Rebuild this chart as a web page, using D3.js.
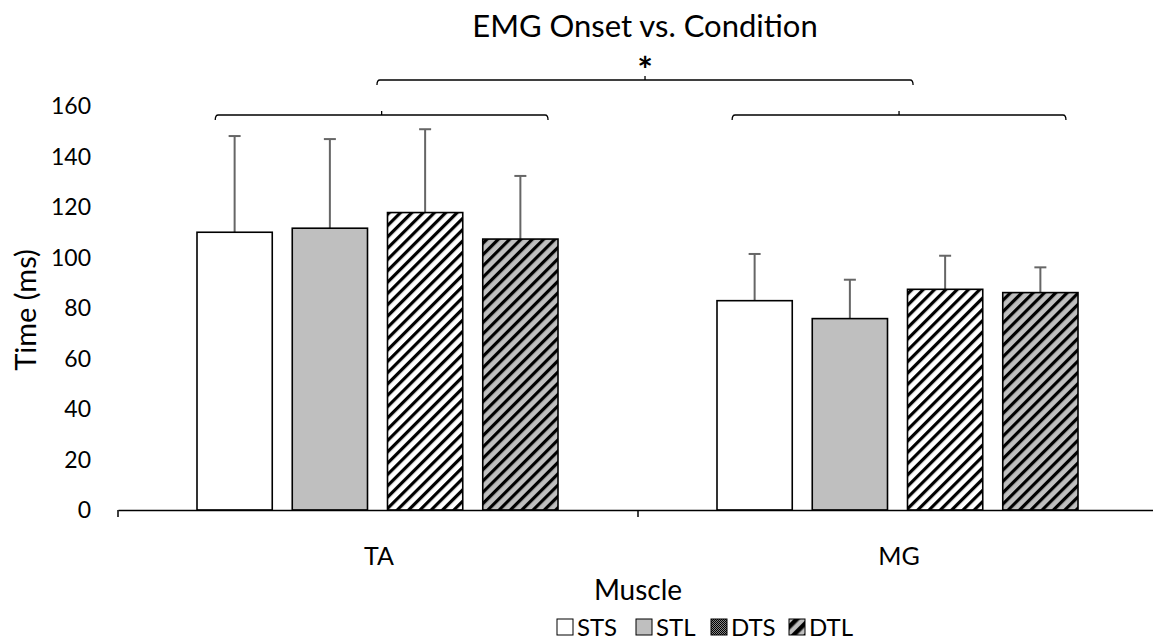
<!DOCTYPE html>
<html>
<head>
<meta charset="utf-8">
<script src="https://cdn.jsdelivr.net/npm/d3@7"></script>
<style>
  body { margin: 0; background: #fff; }
  text { font-family: Lato, "Liberation Sans", sans-serif; fill: #000; }
</style>
</head>
<body>
<div id="chart"></div>
<script>
// data
var muscles = ["TA", "MG"];
var conditions = ["STS", "STL", "DTS", "DTL"];
var meanTA = [110.0, 111.6, 117.8, 107.3];
var meanMG = [82.9, 75.8, 87.4, 86.1];
var sdTA = [38.1, 35.3, 33.0, 25.0];
var sdMG = [18.5, 15.4, 13.3, 10.0];
var yTicks = [0, 20, 40, 60, 80, 100, 120, 140, 160];

var width = 1153, height = 642;

var svg = d3.select("#chart").append("svg")
  .attr("width", width)
  .attr("height", height);

var defs = svg.append("defs");

// fill patterns
function stripes(id, bg, size, thick) {
  var p = defs.append("pattern")
    .attr("id", id)
    .attr("patternUnits", "userSpaceOnUse")
    .attr("width", size).attr("height", size)
    .attr("patternTransform", "rotate(45)");
  p.append("rect").attr("width", size).attr("height", size).attr("fill", bg);
  p.append("rect").attr("width", thick).attr("height", size).attr("fill", "#000");
}
stripes("dts", "#fff", 8, 3.2);
stripes("dtl", "#bfbfbf", 8, 3.2);
stripes("dtlLeg", "#bfbfbf", 9, 4.5);

var chk = defs.append("pattern")
  .attr("id", "chk")
  .attr("patternUnits", "userSpaceOnUse")
  .attr("width", 2).attr("height", 2);
chk.append("rect").attr("width", 2).attr("height", 2).attr("fill", "#888");
chk.append("rect").attr("width", 1).attr("height", 1).attr("fill", "#000");
chk.append("rect").attr("x", 1).attr("y", 1).attr("width", 1).attr("height", 1).attr("fill", "#000");

var fills = {STS: "#fff", STL: "#bfbfbf", DTS: "url(#dts)", DTL: "url(#dtl)"};
var legFills = {STS: "#fff", STL: "#bfbfbf", DTS: "url(#chk)", DTL: "url(#dtlLeg)"};

// scales
var x0 = d3.scaleBand().domain(muscles).range([118, 1158]);
var x1 = d3.scaleBand().domain(conditions).range([79, 440]).paddingInner(0.21);
var y = d3.scaleLinear().domain([0, 160]).range([510, 106]);

var rows = [];
muscles.forEach(function (m, i) {
  var means = i == 0 ? meanTA : meanMG;
  var sds = i == 0 ? sdTA : sdMG;
  conditions.forEach(function (c, j) {
    rows.push({muscle: m, cond: c, mean: means[j], sd: sds[j]});
  });
});

// y tick labels (no axis line)
svg.append("g")
  .selectAll("text")
  .data(yTicks)
  .enter().append("text")
  .attr("x", 91)
  .attr("y", function (d) { return y(d); })
  .attr("dy", "0.36em")
  .attr("text-anchor", "end")
  .style("font-size", "23px")
  .text(function (d) { return d; });

// error bars
var eb = svg.append("g");
rows.forEach(function (d) {
  var cx = x0(d.muscle) + x1(d.cond) + x1.bandwidth() / 2;
  eb.append("line")
    .attr("x1", cx).attr("x2", cx)
    .attr("y1", y(d.mean)).attr("y2", y(d.mean + d.sd))
    .style("stroke", "#666").style("stroke-width", "2px");
  eb.append("line")
    .attr("x1", cx - 6).attr("x2", cx + 6)
    .attr("y1", y(d.mean + d.sd)).attr("y2", y(d.mean + d.sd))
    .style("stroke", "#666").style("stroke-width", "2px");
});

// bars
svg.append("g")
  .selectAll("rect")
  .data(rows)
  .enter().append("rect")
  .attr("x", function (d) { return x0(d.muscle) + x1(d.cond); })
  .attr("y", function (d) { return y(d.mean); })
  .attr("width", x1.bandwidth())
  .attr("height", function (d) { return y(0) - y(d.mean); })
  .style("fill", function (d) { return fills[d.cond]; })
  .style("stroke", "#000")
  .style("stroke-width", "1.6px");

// x axis
var xAxis = d3.axisBottom(x0).tickSizeOuter(0).tickSizeInner(0).tickFormat("");
var gx = svg.append("g").attr("transform", "translate(0," + y(0) + ")").call(xAxis);
gx.select(".domain").style("stroke", "#000").style("stroke-width", "1.5px");
gx.selectAll(".tick").remove();
muscles.concat(["end"]).forEach(function (m, i) {
  var xx = 118 + i * x0.bandwidth();
  gx.append("line").attr("x1", xx).attr("x2", xx).attr("y1", 0).attr("y2", 7)
    .style("stroke", "#000").style("stroke-width", "1.5px");
});

svg.append("g")
  .selectAll("text")
  .data(muscles)
  .enter().append("text")
  .attr("x", function (d) { return x0(d) + x0.bandwidth() / 2 + 1; })
  .attr("y", 565)
  .attr("text-anchor", "middle")
  .style("font-size", "25px")
  .text(function (d) { return d; });

// axis titles
svg.append("text")
  .attr("x", 638).attr("y", 600)
  .attr("text-anchor", "middle")
  .style("font-size", "28px")
  .text("Muscle");

svg.append("text")
  .attr("transform", "translate(36,310) rotate(-90)")
  .attr("text-anchor", "middle")
  .style("font-size", "29px")
  .text("Time (ms)");

svg.append("text")
  .attr("x", 645).attr("y", 37)
  .attr("text-anchor", "middle")
  .style("font-size", "31px")
  .text("EMG Onset vs. Condition");

// significance brackets
function bracket(xa, xb, yy) {
  var g = svg.append("g").style("fill", "none").style("stroke", "#000").style("stroke-width", "1.3px");
  var mid = (xa + xb) / 2;
  g.append("path")
    .attr("d", "M" + xa + "," + (yy + 5) + " Q" + xa + "," + yy + " " + (xa + 3) + "," + yy +
      " L" + (xb - 3) + "," + yy + " Q" + xb + "," + yy + " " + xb + "," + (yy + 5));
  g.append("line").attr("x1", mid).attr("x2", mid).attr("y1", yy).attr("y2", yy - 4);
}
var bTA = [x0("TA") + 0.187 * x0.bandwidth(), x0("TA") + 0.827 * x0.bandwidth()];
var bMG = [x0("MG") + 0.181 * x0.bandwidth(), x0("MG") + 0.823 * x0.bandwidth()];
bracket(bTA[0], bTA[1], 115);
bracket(bMG[0], bMG[1], 115);
bracket(x0("TA") + 0.498 * x0.bandwidth(), x0("MG") + 0.529 * x0.bandwidth(), 80);

svg.append("text")
  .attr("x", 645).attr("y", 83)
  .attr("text-anchor", "middle")
  .style("font-size", "37px")
  .style("font-weight", "bold")
  .text("*");

// legend
var legX = [557, 636, 711, 789];
var leg = svg.append("g");
conditions.forEach(function (c, i) {
  leg.append("rect")
    .attr("x", legX[i]).attr("y", 619)
    .attr("width", 16).attr("height", 16)
    .style("fill", legFills[c])
    .style("stroke", "#000").style("stroke-width", "1px");
  leg.append("text")
    .attr("x", legX[i] + 20).attr("y", 636)
    .style("font-size", "24px")
    .text(c);
});
</script>
</body>
</html>
